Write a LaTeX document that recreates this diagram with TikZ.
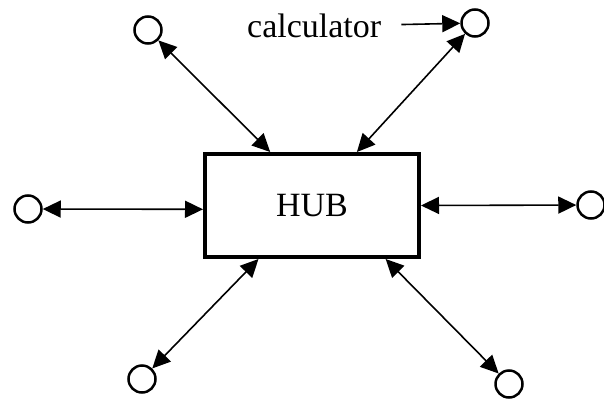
\documentclass[tikz,border=0pt]{standalone}
\usepackage{fontspec}
\setmainfont{Liberation Serif}
\usetikzlibrary{arrows.meta}

\begin{document}
\begin{tikzpicture}[x=1pt,y=-1pt,
    port/.style={circle,draw,line width=2.5pt,minimum size=27pt,inner sep=0pt},
    hubbox/.style={draw,line width=4pt,minimum width=214pt,minimum height=103pt,inner sep=0pt},
    tip/.style={Triangle[length=18pt,width=17pt]},
    link/.style={line width=1.6pt,{Triangle[length=18pt,width=17pt]}-{Triangle[length=18pt,width=17pt]}},
    oneway/.style={line width=1.6pt,-{Triangle[length=18pt,width=17pt]}},
    label/.style={font=\fontsize{34}{40}\selectfont}]
    \useasboundingbox (0,0) rectangle (604,401);

    % Hub
    \node[hubbox,label] (hub) at (312,205.5) {HUB};

    % Ports around the hub
    \node[port] (tl) at (148,30) {};
    \node[port] (tr) at (475,23) {};
    \node[port] (l) at (28,209) {};
    \node[port] (r) at (591,205) {};
    \node[port] (bl) at (142,379) {};
    \node[port] (br) at (509,384) {};

    % Links
    \foreach \p/\a in {tl/128,tr/50,l/182,r/0,bl/225,br/324}
        \draw[link] (\p) -- (hub.\a);

    % Calculator label
    \node[label,anchor=base west,inner sep=0pt] (calc) at (247,38) {calculator};
    \draw[oneway,shorten <=20pt] (calc) -- (tr);
\end{tikzpicture}
\end{document}
